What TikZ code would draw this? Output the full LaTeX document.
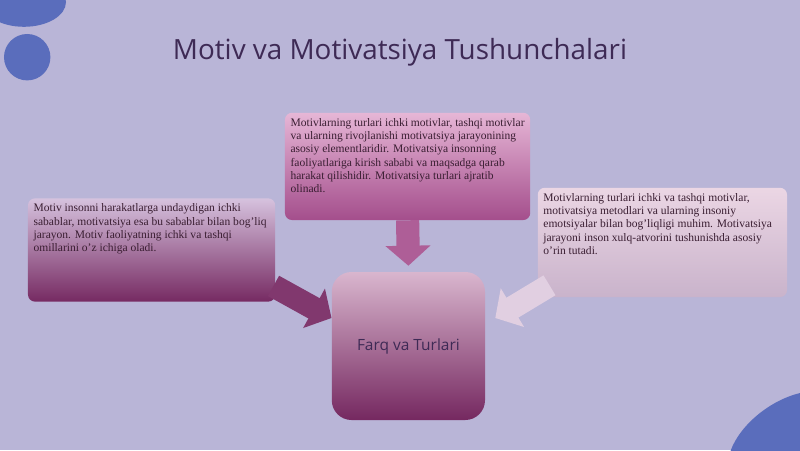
\documentclass[tikz,border=0pt]{standalone}
\usepackage{fontspec}
\setmainfont{Liberation Serif}
\newfontfamily\titlefont{Open Sans}
\usetikzlibrary{arrows.meta}

\definecolor{bgcol}{HTML}{B9B5D7}
\definecolor{blobcol}{HTML}{5A6DBC}
\definecolor{titlecol}{HTML}{3E2A55}
\definecolor{txtcol}{HTML}{3A1E32}
\definecolor{pinktop}{HTML}{E6B6D6}
\definecolor{pinkbot}{HTML}{A44E8C}
\definecolor{lavtop}{HTML}{D6C2DE}
\definecolor{plumbot}{HTML}{762A62}
\definecolor{palepink}{HTML}{EBD6E4}
\definecolor{palelav}{HTML}{C9B3CB}
\definecolor{centtop}{HTML}{D9B6CE}
\definecolor{centbot}{HTML}{752860}

\tikzset{
  infobox/.style={rounded corners=5pt, inner sep=4pt, font=\fontsize{8.2}{9.4}\selectfont, text=txtcol, align=left},
  bigarrow/.style={line width=0.58cm, -{Triangle[length=0.5cm,width=1.1cm]}}
}

\begin{document}
\begin{tikzpicture}
   % background and blobs
   \fill[bgcol] (0,0) rectangle (20,11.25);
   \useasboundingbox (0,0) rectangle (20,11.25);
   \fill[blobcol] (0.6,11.2) ellipse (1.05cm and 0.62cm);
   \fill[blobcol] (0.68,9.82) circle (0.58cm);
   \fill[blobcol, rotate around={35:(19.7,0.2)}] (19.7,0.2) ellipse (1.7cm and 1.0cm);

   \node[font=\titlefont\fontsize{19.8}{23}\selectfont, text=titlecol] (title) at (10,9.95) {Motiv va Motivatsiya Tushunchalari};

   \begin{scope}[every node/.style={infobox}]
    \node[top color=pinktop, bottom color=pinkbot] (top) at (10.19,7.09)
      {\parbox[t][2.4cm][t]{5.85cm}{\raggedright Motivlarning turlari ichki motivlar, tashqi motivlar va ularning rivojlanishi motivatsiya jarayonining asosiy elementlaridir. Motivatsiya insonning faoliyatlariga kirish sababi va maqsadga qarab harakat qilishidir. Motivatsiya turlari ajratib olinadi.}};
    \node[top color=lavtop, bottom color=plumbot] (left) at (3.79,5.0)
      {\parbox[t][2.3cm][t]{5.9cm}{\raggedright Motiv insonni harakatlarga undaydigan ichki sabablar, motivatsiya esa bu sabablar bilan bog'liq jarayon. Motiv faoliyatning ichki va tashqi omillarini o'z ichiga oladi.}};
    \node[top color=palepink, bottom color=palelav] (right) at (16.56,5.19)
      {\parbox[t][2.45cm][t]{5.95cm}{\raggedright Motivlarning turlari ichki va tashqi motivlar, motivatsiya metodlari va ularning insoniy emotsiyalar bilan bog'liqligi muhim. Motivatsiya jarayoni inson xulq-atvorini tushunishda asosiy o'rin tutadi.}};
   \end{scope}

   \node[rounded corners=14pt, top color=centtop, bottom color=centbot, minimum width=3.83cm, minimum height=3.7cm, font=\titlefont\fontsize{11}{13}\selectfont, text=titlecol] (center) at (10.21,2.6) {Farq va Turlari};

   % arrows into the centre
   \draw[bigarrow, color=pinkbot!85!pinktop] (top.south) -- ([yshift=0.15cm]center.north);
   \draw[bigarrow, color=plumbot!90!pinktop] ([xshift=-0.05cm,yshift=0.4cm]left.south east) -- ([yshift=0.7cm]center.west);
   \draw[bigarrow, color=palepink!80!bgcol] ([xshift=0.3cm,yshift=0.3cm]right.south west) -- ([xshift=0.25cm,yshift=0.7cm]center.east);
\end{tikzpicture}
\end{document}
